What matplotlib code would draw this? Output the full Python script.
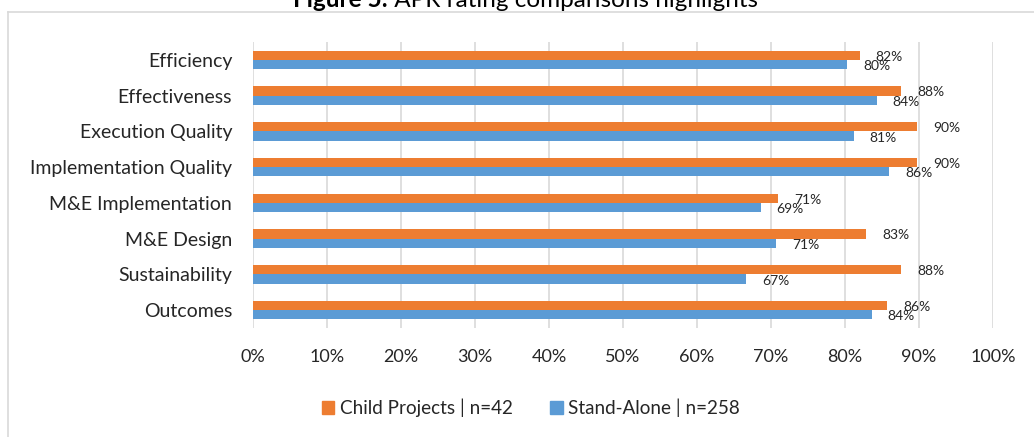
import matplotlib
matplotlib.use("Agg")
import matplotlib.pyplot as plt
from matplotlib.lines import Line2D
from matplotlib.patches import Patch
import numpy as np

plt.rcParams['font.family'] = ['Lato', 'DejaVu Sans']

categories = ["Efficiency", "Effectiveness", "Execution Quality", "Implementation Quality",
              "M&E Implementation", "M&E Design", "Sustainability", "Outcomes"]
child_projects = [82.0, 87.6, 89.7, 89.7, 71.0, 82.9, 87.6, 85.7]
stand_alone = [80.3, 84.3, 81.2, 86.0, 68.6, 70.7, 66.6, 83.6]
series_names = ["Child Projects | n=42", "Stand-Alone | n=258"]
x_ticks = [0, 10, 20, 30, 40, 50, 60, 70, 80, 90, 100]
title_bold = "Figure 5:"
title_rest = " APR rating comparisons highlights"

ORANGE = "#ED7D31"
BLUE = "#5B9BD5"
GRID = "#D9D9D9"
TXT = "#262626"

W, H = 1034, 437
fig = plt.figure(figsize=(W / 100, H / 100), dpi=100)
ax = fig.add_axes([253 / W, 1 - 328 / H, (993 - 253) / W, (328 - 42) / H])

y = np.arange(len(categories))
h = 0.26
ax.barh(y - h / 2, child_projects, height=h, color=ORANGE, zorder=3)
ax.barh(y + h / 2, stand_alone, height=h, color=BLUE, zorder=3)

for yi, v in zip(y, child_projects):
    ax.annotate(f"{v:.0f}%", (v, yi - h / 2), xytext=(11.5, -1), textcoords="offset points",
                ha="left", va="center", fontsize=10, color=TXT)
for yi, v in zip(y, stand_alone):
    ax.annotate(f"{v:.0f}%", (v, yi + h / 2), xytext=(11.5, -1.2), textcoords="offset points",
                ha="left", va="center", fontsize=10, color=TXT)

ax.set_xlim(0, 100)
ax.set_ylim(len(categories) - 0.5, -0.5)
ax.set_xticks(x_ticks)
ax.set_xticklabels([f"{t}%" for t in x_ticks], fontsize=13, color=TXT)
ax.set_yticks(y)
ax.set_yticklabels(categories, fontsize=14, color=TXT)
ax.tick_params(axis="both", length=0)
ax.tick_params(axis="x", pad=15)
ax.tick_params(axis="y", pad=15)
ax.grid(axis="x", color=GRID, linewidth=1.2, zorder=0)
for s in ax.spines.values():
    s.set_visible(False)

handles = [Patch(color=ORANGE), Patch(color=BLUE)]
fig.legend(handles, series_names, loc="center", bbox_to_anchor=(531 / W, 1 - 408 / H),
           ncol=2, frameon=False, fontsize=13.6, handlelength=0.65, handleheight=0.65,
           handletextpad=0.3, columnspacing=2.0, labelcolor=TXT)

# chart frame
fig.add_artist(Line2D([8 / W, 1.0], [1 - 12 / H, 1 - 12 / H], color=GRID, linewidth=1.2,
                      transform=fig.transFigure))
fig.add_artist(Line2D([8 / W, 8 / W], [1 - 12 / H, 0], color=GRID, linewidth=1.2,
                      transform=fig.transFigure))

# title (partially cut at top)
t1 = fig.text(293 / W, 1 - 7 / H, title_bold, fontsize=17.5, fontweight="bold",
              ha="left", va="baseline", color="black")
fig.canvas.draw()
bb = t1.get_window_extent()
fig.text(bb.x1 / W, 1 - 7 / H, title_rest, fontsize=17.5, ha="left", va="baseline", color="black")

fig.savefig("out.png", dpi=100)
